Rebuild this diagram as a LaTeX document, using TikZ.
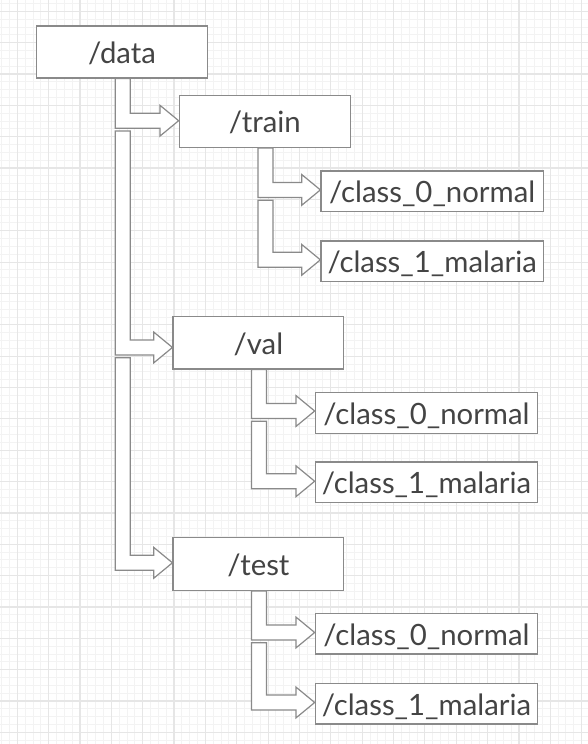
\documentclass[tikz,border=0pt]{standalone}
\usepackage{fontspec}
\setmainfont{Lato}
\usetikzlibrary{calc}
\definecolor{gridmajor}{HTML}{E6E6E6}
\definecolor{gridminor}{HTML}{F3F3F3}
\definecolor{boxline}{HTML}{8A8A8A}
\definecolor{txt}{HTML}{444444}
\def\stemhw{5.63pt}
\def\shafthw{5.63pt}
\def\headhw{11.55pt}
\def\headlen{14pt}
\def\stemdx{0.5pt}
\tikzset{
  folder/.style={draw=boxline, line width=0.95pt, fill=white, text=txt, inner sep=0pt,
    text height=17pt, text depth=0pt,
    font=\fontsize{22}{26}\selectfont},
  bigbox/.style={folder, minimum width=128pt, minimum height=39pt},
  smallbox/.style={folder, minimum width=166.8pt, minimum height=30.6pt},
  larrow/.style={draw=boxline, line width=0.9pt, fill=white, line join=miter},
  gridminorline/.style={draw=gridminor, line width=0.7pt},
  gridmajorline/.style={draw=gridmajor, line width=0.9pt}
}
\newcommand\LArrow[3]{%
  \draw[larrow] let \p1=(#1.center), \p2=(#2), \p3=(#3) in
    (\x1+\stemdx-\stemhw,\y2) -- (\x1+\stemdx-\stemhw,\y3-\shafthw)
    -- (\x3-\headlen,\y3-\shafthw) -- (\x3-\headlen,\y3-\headhw)
    -- (\x3,\y3) -- (\x3-\headlen,\y3+\headhw) -- (\x3-\headlen,\y3+\shafthw)
    -- (\x1+\stemdx+\stemhw,\y3+\shafthw) -- (\x1+\stemdx+\stemhw,\y2) -- cycle;}
\begin{document}
\begin{tikzpicture}[x=0.75pt,y=-0.75pt]
\useasboundingbox (0,0) rectangle (588,744);
\fill[white] (0,0) rectangle (588,744);
\begin{scope}
  \clip (0,0) rectangle (588,744);
  \foreach \i in {0,...,80} { \draw[gridminorline] ({-14.05+7.8375*\i},0) -- ++(0,744); }
  \foreach \i in {0,...,100} { \draw[gridminorline] (0,{-20.05+7.8375*\i}) -- ++(588,0); }
  \foreach \i in {0,...,20} { \draw[gridmajorline] ({-14.05+31.35*\i},0) -- ++(0,744); }
  \foreach \i in {0,...,25} { \draw[gridmajorline] (0,{-20.05+31.35*\i}) -- ++(588,0); }
\end{scope}

% folders
\node[bigbox] (data) at (122,52) {/data};
\node[bigbox, minimum width=128.3pt, minimum height=38.7pt] (train) at (264.8,121.5) {/train};
\node[smallbox] (tc0) at (432.2,191.3) {/class\_0\_normal};
\node[smallbox] (tc1) at (432.2,261.3) {/class\_1\_malaria};
\node[bigbox, minimum height=39.2pt] (val) at (258.4,342.8) {/val};
\node[smallbox] (vc0) at (426.5,412.8) {/class\_0\_normal};
\node[smallbox] (vc1) at (426.5,482.3) {/class\_1\_malaria};
\node[bigbox, minimum height=39.7pt] (test) at (258.4,563.8) {/test};
\node[smallbox] (sc0) at (426.5,633.7) {/class\_0\_normal};
\node[smallbox] (sc1) at (426.5,703.7) {/class\_1\_malaria};

% arrow tips and stem starts
\coordinate (tTrain) at ([yshift=0.6pt]train.west);
\coordinate (tVal) at ([yshift=-3.5pt]val.west);
\coordinate (tTest) at ([yshift=0.75pt]test.west);
\coordinate (sVal) at ([yshift=-7.75pt]tTrain);
\coordinate (sTest) at ([yshift=-7.75pt]tVal);

\coordinate (tTc0) at ([yshift=1.05pt]tc0.west);
\coordinate (tTc1) at ([yshift=1.1pt]tc1.west);
\coordinate (sTc1) at ([yshift=-7.75pt]tTc0);
\coordinate (tVc0) at ([yshift=1.35pt]vc0.west);
\coordinate (tVc1) at ([yshift=0.8pt]vc1.west);
\coordinate (sVc1) at ([yshift=-7.75pt]tVc0);
\coordinate (tSc0) at ([yshift=0.9pt]sc0.west);
\coordinate (tSc1) at ([yshift=0.9pt]sc1.west);
\coordinate (sSc1) at ([yshift=-7.75pt]tSc0);

% connectors
\LArrow{data}{data.south}{tTrain}
\LArrow{data}{sVal}{tVal}
\LArrow{data}{sTest}{tTest}
\LArrow{train}{train.south}{tTc0}
\LArrow{train}{sTc1}{tTc1}
\LArrow{val}{val.south}{tVc0}
\LArrow{val}{sVc1}{tVc1}
\LArrow{test}{test.south}{tSc0}
\LArrow{test}{sSc1}{tSc1}
\end{tikzpicture}
\end{document}
